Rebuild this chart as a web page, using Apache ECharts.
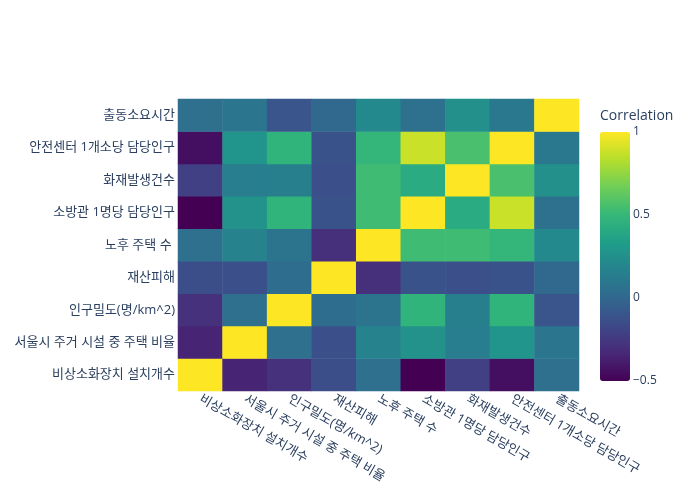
<!DOCTYPE html>
<html>
<head>
<meta charset="utf-8">
<script src="https://cdn.jsdelivr.net/npm/echarts@6/dist/echarts.min.js"></script>
<style>
  html, body { margin: 0; padding: 0; background: #fff; }
  #main { width: 700px; height: 500px; }
</style>
</head>
<body>
<div id="main"></div>
<script>
// 변수 이름 (x, y 같은 순서)
var labels = ['비상소화장치 설치개수', '서울시 주거 시설 중 주택 비율', '인구밀도(명/km^2)', '재산피해',
    '노후 주택 수 ', '소방관 1명당 담당인구', '화재발생건수', '안전센터 1개소당 담당인구', '출동소요시간'];

// 상관계수 행 (아래에서 위로)
var rowHydrant   = [1, -0.35, -0.29, -0.14, 0.05, -0.5, -0.21, -0.44, 0.05];
var rowHousing   = [-0.35, 1, 0.05, -0.13, 0.17, 0.26, 0.14, 0.28, 0.09];
var rowDensity   = [-0.29, 0.05, 1, 0.03, 0.07, 0.47, 0.15, 0.47, -0.1];
var rowDamage    = [-0.14, -0.13, 0.03, 1, -0.3, -0.12, -0.13, -0.12, 0.0];
var rowOldHouse  = [0.05, 0.17, 0.07, -0.3, 1, 0.53, 0.53, 0.49, 0.21];
var rowFirefight = [-0.5, 0.26, 0.47, -0.12, 0.53, 1, 0.42, 0.88, 0.06];
var rowFires     = [-0.21, 0.14, 0.15, -0.13, 0.53, 0.42, 1, 0.56, 0.25];
var rowCenter    = [-0.44, 0.28, 0.47, -0.12, 0.49, 0.88, 0.56, 1, 0.1];
var rowDispatch  = [0.05, 0.09, -0.1, 0.0, 0.21, 0.06, 0.25, 0.1, 1];

var colorbarTicks = [-0.5, 0, 0.5, 1];

var rows = [rowHydrant, rowHousing, rowDensity, rowDamage, rowOldHouse,
    rowFirefight, rowFires, rowCenter, rowDispatch];

var data = [];
for (var i = 0; i < rows.length; i++) {
    for (var j = 0; j < rows[i].length; j++) {
        data.push([j, i, rows[i][j]]);
    }
}

var viridis = ['#440154', '#482878', '#3e4989', '#31688e', '#26828e',
    '#1f9e89', '#35b779', '#6ece58', '#b5de2b', '#fde725'];

var font = '"Open Sans", "Noto Sans CJK KR", sans-serif';
var textColor = '#2a3f5f';

var myChart = echarts.init(document.getElementById('main'));
myChart.setOption({
    animation: false,
    textStyle: { fontFamily: font },
    grid: [
        { left: 178, top: 99, width: 401, height: 292 },
        { left: 600, top: 132, width: 30, height: 249 }   // 컬러바 눈금
    ],
    xAxis: [
        {
            type: 'category',
            data: labels,
            gridIndex: 0,
            axisLine: { show: false },
            axisTick: { show: false },
            splitLine: { show: false },
            axisLabel: {
                rotate: -30,
                interval: 0,
                margin: 7,
                color: textColor,
                fontSize: 13,
                fontFamily: font
            }
        },
        { type: 'value', gridIndex: 1, show: false }
    ],
    yAxis: [
        {
            type: 'category',
            data: labels,
            gridIndex: 0,
            axisLine: { show: false },
            axisTick: { show: false },
            splitLine: { show: false },
            axisLabel: {
                interval: 0,
                margin: 3,
                color: textColor,
                fontSize: 13,
                fontFamily: font
            }
        },
        {
            type: 'value',
            gridIndex: 1,
            position: 'right',
            min: colorbarTicks[0],
            max: colorbarTicks[colorbarTicks.length - 1],
            interval: 0.5,
            axisLine: { show: false },
            axisTick: { show: false },
            splitLine: { show: false },
            axisLabel: {
                margin: 3,
                color: textColor,
                fontSize: 12,
                fontFamily: font,
                formatter: function (v) { return String(v).replace('-', '\u2212'); }
            }
        }
    ],
    visualMap: {
        type: 'continuous',
        seriesIndex: 0,
        min: -0.5,
        max: 1,
        calculable: false,
        left: 600,
        top: 132,
        padding: 0,
        itemWidth: 30,
        itemHeight: 249,
        text: null,
        showLabel: false,
        inRange: { color: viridis }
    },
    title: {
        text: 'Correlation',
        left: 600,
        top: 109,
        padding: 0,
        textStyle: { color: textColor, fontSize: 14, fontWeight: 'normal', fontFamily: font }
    },
    series: [{
        type: 'heatmap',
        xAxisIndex: 0,
        yAxisIndex: 0,
        data: data,
        itemStyle: { borderWidth: 0 }
    }]
});
</script>
</body>
</html>
